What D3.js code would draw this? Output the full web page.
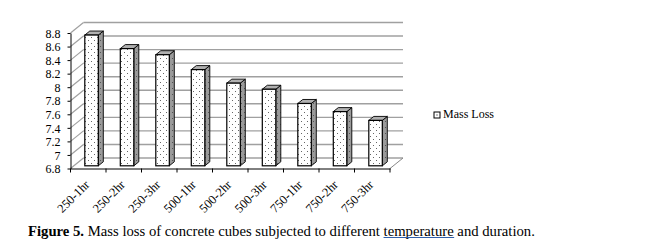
<!DOCTYPE html>
<html>
<head>
<meta charset="utf-8">
<script src="https://cdn.jsdelivr.net/npm/d3@7"></script>
<style>
  body { margin: 0; background: #fff; }
  svg { display: block; }
  text { font-family: "Liberation Serif", "Times New Roman", serif; fill: #000; }
</style>
</head>
<body>
<svg width="654" height="249"></svg>
<script>
const categories = ["250-1hr", "250-2hr", "250-3hr", "500-1hr", "500-2hr", "500-3hr", "750-1hr", "750-2hr", "750-3hr"];
const massLoss = [8.73, 8.53, 8.44, 8.22, 8.02, 7.93, 7.72, 7.60, 7.47];
const yTicks = [6.8, 7, 7.2, 7.4, 7.6, 7.8, 8, 8.2, 8.4, 8.6, 8.8];
const seriesName = "Mass Loss";

const svg = d3.select("svg");

// 3D offsets (front plane -> back wall)
const depthX = 13, depthY = -10.5;
const barOffX = 3.3, barOffY = -2.7;   // bar front face position in depth
const barDX = 5, barDY = -4;           // bar thickness

const xScale = d3.scaleBand().domain(categories).range([70.5, 390]);
const yScale = d3.scaleLinear().domain([6.8, 8.8]).range([168.5, 33]);

// patterns
const defs = svg.append("defs");
function dots(id, bg, dot) {
  const p = defs.append("pattern").attr("id", id)
    .attr("patternUnits", "userSpaceOnUse").attr("width", 6).attr("height", 6);
  p.append("rect").attr("width", 6).attr("height", 6).attr("fill", bg);
  p.append("rect").attr("x", 1).attr("y", 1).attr("width", 1).attr("height", 1).attr("fill", dot);
  p.append("rect").attr("x", 4).attr("y", 4).attr("width", 1).attr("height", 1).attr("fill", dot);
}
dots("dotFront", "#ffffff", "#666");
dots("dotSide", "#9a9a9a", "#555");

// back wall gridlines
const x0 = xScale.range()[0], x1 = xScale.range()[1];
svg.append("g").selectAll("line").data(yTicks).join("line")
  .attr("x1", x0 + depthX).attr("x2", x1 + depthX)
  .attr("y1", d => yScale(d) + depthY).attr("y2", d => yScale(d) + depthY)
  .attr("stroke", "#a0a0a0").attr("stroke-width", 1.4);

// left wall gridlines
svg.append("g").selectAll("line").data(yTicks).join("line")
  .attr("x1", x0).attr("x2", x0 + depthX)
  .attr("y1", d => yScale(d)).attr("y2", d => yScale(d) + depthY)
  .attr("stroke", "#a0a0a0").attr("stroke-width", 1.2);

// floor edges
const yb = yScale(6.8);
svg.append("line").attr("x1", x1).attr("y1", yb).attr("x2", x1 + depthX).attr("y2", yb + depthY)
  .attr("stroke", "#888").attr("stroke-width", 1);

// y axis
const yAxis = d3.axisLeft(yScale).tickValues(yTicks).tickSize(3).tickSizeOuter(0)
  .tickFormat(d => String(+d.toFixed(1)));
const gy = svg.append("g").attr("transform", `translate(${x0},0)`).call(yAxis);
gy.attr("font-family", null);
gy.selectAll("text").attr("font-size", 12).attr("dx", -4).attr("dy", "0.35em");
gy.select(".domain").attr("stroke", "#000");

// x axis
const xAxis = d3.axisBottom(xScale).tickSize(0).tickFormat("");
const gx = svg.append("g").attr("transform", `translate(0,${yb})`).call(xAxis);
gx.select(".domain").attr("stroke", "#000");
gx.selectAll(".bnd").data(d3.range(categories.length + 1)).join("line")
  .attr("x1", i => x0 + i * xScale.step()).attr("x2", i => x0 + i * xScale.step())
  .attr("y1", 0).attr("y2", 4).attr("stroke", "#000");

svg.append("g").selectAll("text").data(categories).join("text")
  .attr("transform", d => `translate(${xScale(d) + xScale.bandwidth() / 2 + 2},${yb + 17}) rotate(-45)`)
  .attr("text-anchor", "end").attr("font-size", 12.5).text(d => d);

// bars
const barW = 13.5;
const bars = svg.append("g").selectAll("g").data(categories).join("g");
bars.each(function (c, i) {
  const g = d3.select(this);
  const xl = xScale(c) + xScale.bandwidth() / 2 - barW / 2 + barOffX;
  const xr = xl + barW;
  const yt = yScale(massLoss[i]) + barOffY;
  const ybt = yb + barOffY;
  g.append("path")
    .attr("d", `M${xr},${yt}L${xr + barDX},${yt + barDY}L${xr + barDX},${ybt + barDY}L${xr},${ybt}Z`)
    .attr("fill", "url(#dotSide)").attr("stroke", "#000").attr("stroke-width", 0.9);
  g.append("path")
    .attr("d", `M${xl},${yt}L${xl + barDX},${yt + barDY}L${xr + barDX},${yt + barDY}L${xr},${yt}Z`)
    .attr("fill", "#b0b0b0").attr("stroke", "#000").attr("stroke-width", 0.9);
  g.append("rect").attr("x", xl).attr("y", yt).attr("width", barW).attr("height", ybt - yt)
    .attr("fill", "url(#dotFront)").attr("stroke", "#000").attr("stroke-width", 1.2);
});

// legend
const lg = svg.append("g").attr("transform", "translate(434,112)");
lg.append("rect").attr("width", 6).attr("height", 6).attr("fill", "#fff")
  .attr("stroke", "#000").attr("stroke-width", 1);
lg.append("rect").attr("x", 2.5).attr("y", 2.5).attr("width", 1).attr("height", 1).attr("fill", "#000");
lg.append("text").attr("x", 9).attr("y", 6).attr("font-size", 12).text(seriesName);

// caption
const cap = svg.append("text").attr("x", 28).attr("y", 236).attr("font-size", 14.7);
cap.append("tspan").attr("font-weight", "bold").text("Figure 5.");
cap.append("tspan").text(" Mass loss of concrete cubes subjected to different ");
cap.append("tspan").attr("class", "temp").text("temperature");
cap.append("tspan").text(" and duration.");
const tb = cap.select(".temp").node().getBBox();
svg.append("line").attr("x1", tb.x).attr("x2", tb.x + tb.width)
  .attr("y1", 237.5).attr("y2", 237.5).attr("stroke", "#2f5faa").attr("stroke-width", 1);
</script>
</body>
</html>
